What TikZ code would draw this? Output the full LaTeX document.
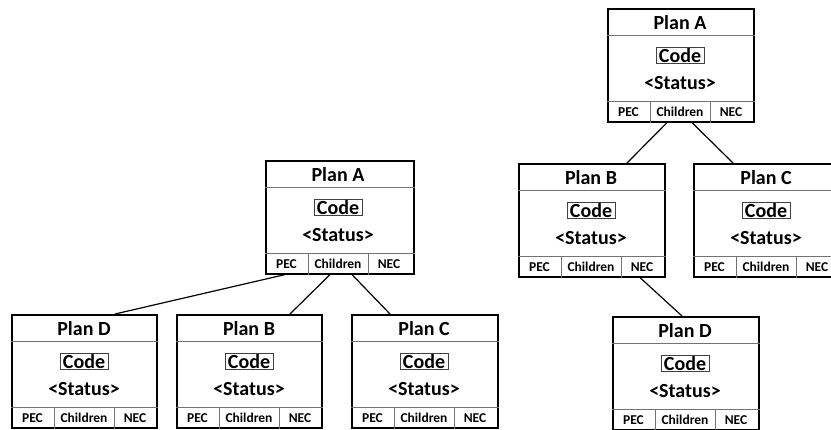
\documentclass[tikz,border=0pt]{standalone}
\usepackage{fontspec}
\setmainfont{Carlito}
\usetikzlibrary{calc}
\definecolor{cellgray}{rgb}{0.45, 0.45, 0.45}

\tikzset{
	planframe/.style={draw=black, line width=1.6pt, rectangle, inner sep=0pt, anchor=north west},
	cellline/.style={draw=cellgray, line width=0.8pt},
	bigtext/.style={font=\fontsize{20}{21}\selectfont\bfseries, inner sep=0pt},
	smalltext/.style={font=\fontsize{13.5}{14}\selectfont\bfseries, inner sep=0pt},
	codebox/.style={bigtext, draw=black!75, line width=0.6pt, inner xsep=3pt, inner ysep=1pt},
	link/.style={draw=black, line width=1.2pt}
}

% one plan: name, title, left, top, width
\newcommand{\planbox}[5]{
	\node[planframe, minimum width=#5, minimum height=113] (#1) at (#3,#4) {};
	\draw[cellline] ($(#1.north west)+(0,27)$) -- ($(#1.north east)+(0,27)$);
	\draw[cellline] ($(#1.south west)+(0,-21)$) -- ($(#1.south east)+(0,-21)$);
	\draw[cellline] ($(#1.south west)+(43,0)$) -- ++(0,-21);
	\draw[cellline] ($(#1.south west)+(103,0)$) -- ++(0,-21);
	\node[bigtext] (#1-title) at ($(#1.north west)+(73,15)$) {#2};
	\node[codebox] (#1-code) at ($(#1.north west)+(73,47.5)$) {Code};
	\node[bigtext] (#1-status) at ($(#1.north west)+(73,75)$) {<Status>};
	\node[smalltext] (#1-pec) at ($(#1.south west)+(21.5,-10.5)$) {PEC};
	\node[smalltext] (#1-children) at ($(#1.south west)+(73,-10.5)$) {Children};
	\node[smalltext] (#1-nec) at ($(#1.south west)+(124,-10.5)$) {NEC};
}

\begin{document}
\begin{tikzpicture}[x=1pt, y=-1pt]
	\useasboundingbox (0,0) rectangle (831,430);
	\foreach \n/\t/\x/\y/\w in {lA/Plan A/265/160/148, lD/Plan D/11/314/145, lB/Plan B/176/314/145, lC/Plan C/351/314/146,
		rA/Plan A/607/8/146, rB/Plan B/518/163/146, rC/Plan C/693/163/138, rD/Plan D/612/316/146}{
		\planbox{\n}{\t}{\x}{\y}{\w}
	}
	% tree on the left
	\draw[link] ($(lA.south west)+(20,0)$) -- ($(lD.north west)+(104,0)$);
	\draw[link] ($(lA.south west)+(65,0)$) -- ($(lB.north west)+(114,0)$);
	\draw[link] ($(lA.south west)+(87,0)$) -- ($(lC.north west)+(39,0)$);
	% tree on the right
	\draw[link] ($(rA.south west)+(60,0)$) -- ($(rB.north west)+(109,0)$);
	\draw[link] ($(rA.south west)+(85,0)$) -- ($(rC.north west)+(40,0)$);
	\draw[link] ($(rB.south west)+(122,0)$) -- ($(rD.north west)+(70,0)$);
\end{tikzpicture}
\end{document}
